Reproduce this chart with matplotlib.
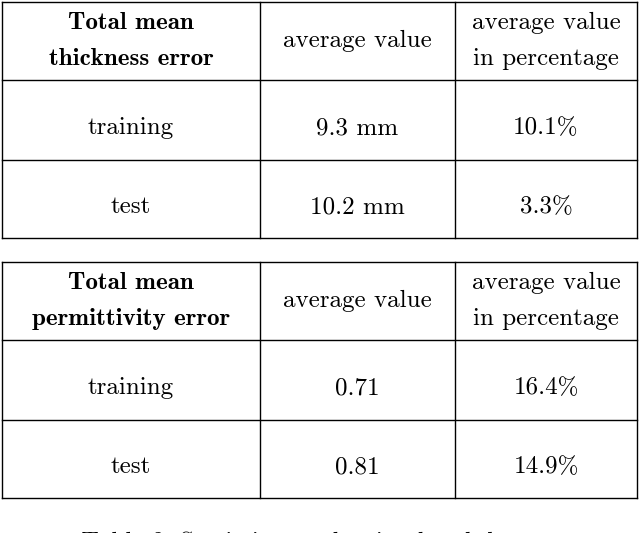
import matplotlib
matplotlib.use("Agg")
import matplotlib.pyplot as plt

plt.rcParams["axes.unicode_minus"] = False

# table contents
headers_1 = ["Total mean\nthickness error", "average value", "average value\nin percentage"]
headers_2 = ["Total mean\npermittivity error", "average value", "average value\nin percentage"]
row_labels = ["training", "test"]
thickness_values = ["9.3 mm", "10.2 mm"]
thickness_pct = ["10.1%", "3.3%"]
permittivity_values = ["0.71", "0.81"]
permittivity_pct = ["16.4%", "14.9%"]
caption = "Table 2: Statistics on the simulated dataset"

col_edges = [2, 260, 455, 637]
W, H = 640, 533
FS = 18

fig = plt.figure(figsize=(6.4, 5.33), dpi=100)
ax = fig.add_axes([0, 0, 1, 1])
ax.set_xlim(0, W)
ax.set_ylim(H, 0)
ax.axis("off")


def draw_table(top, headers, values, pcts):
    rows = [top, top + 78, top + 158, top + 236]
    for y in rows:
        ax.plot([col_edges[0], col_edges[-1]], [y, y], color="black", lw=1)
    for x in col_edges:
        ax.plot([x, x], [rows[0], rows[-1]], color="black", lw=1)
    centers = [(col_edges[i] + col_edges[i + 1]) / 2 for i in range(3)]
    hy = (rows[0] + rows[1]) / 2
    for i, h in enumerate(headers):
        bold = i == 0
        ax.text(centers[i], hy, h, ha="center", va="center", fontsize=FS,
                family="cmb10" if bold else "cmr10", linespacing=1.85)
    for r in range(2):
        y = (rows[r + 1] + rows[r + 2]) / 2 + 8
        for i, t in enumerate([row_labels[r], values[r], pcts[r]]):
            ax.text(centers[i], y, t, ha="center", va="center", fontsize=FS, family="cmr10")


draw_table(2, headers_1, thickness_values, thickness_pct)
draw_table(262, headers_2, permittivity_values, permittivity_pct)

ax.text(W / 2, 543, caption, ha="center", va="center", fontsize=FS, family="cmr10")

fig.savefig("out.png", dpi=100)
